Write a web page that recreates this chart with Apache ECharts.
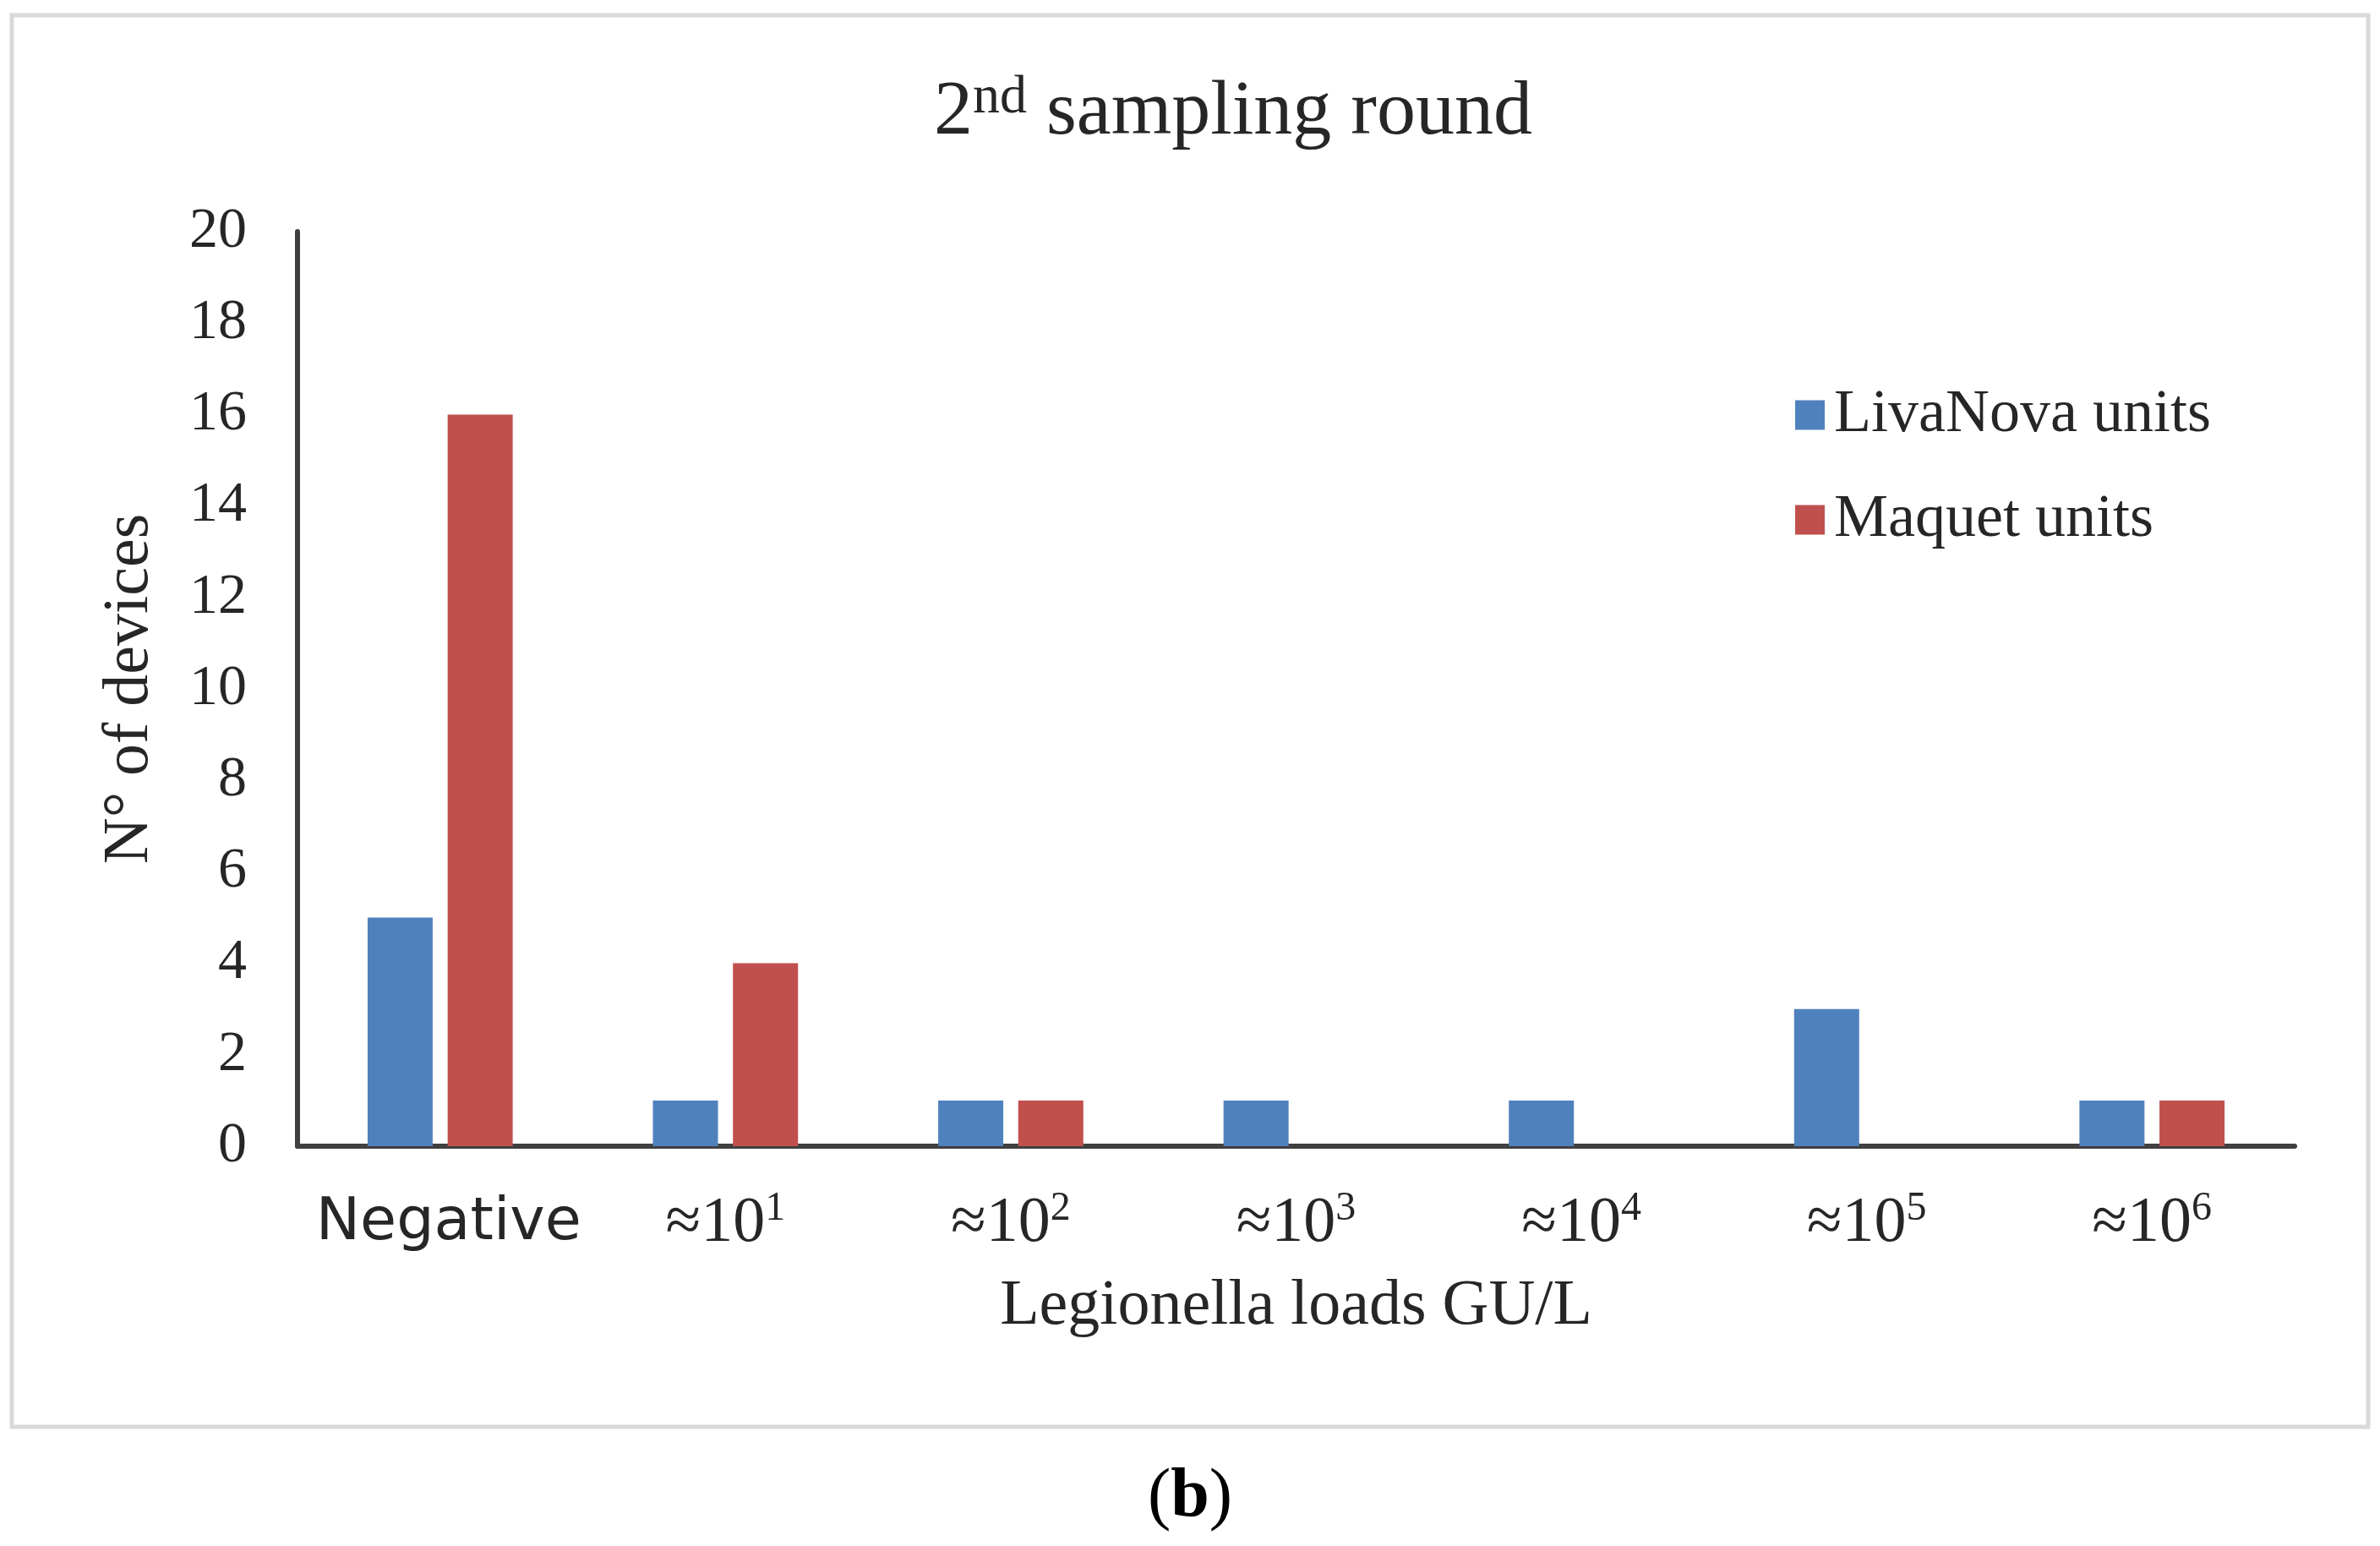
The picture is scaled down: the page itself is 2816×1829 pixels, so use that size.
<!DOCTYPE html>
<html>
<head>
<meta charset="utf-8">
<script src="https://cdn.jsdelivr.net/npm/echarts@6/dist/echarts.min.js"></script>
<style>
html,body{margin:0;padding:0;background:#fff;}
#chart{width:2816px;height:1829px;}
</style>
</head>
<body>
<div id="chart"></div>
<script>
const categories = ['Negative', '≈10¹', '≈10²', '≈10³', '≈10⁴', '≈10⁵', '≈10⁶'];
const seriesNames = ['LivaNova units', 'Maquet units'];
const livaNova = [5, 1, 1, 1, 1, 3, 1];
const maquet = [16, 4, 1, 0, 0, 0, 1];
const yTicks = [0, 2, 4, 6, 8, 10, 12, 14, 16, 18, 20];
const titleText = '2nd sampling round';
const xName = 'Legionella loads GU/L';
const yName = 'N° of devices';
const caption = '(b)';

const supMap = {'¹':'1','²':'2','³':'3','⁴':'4','⁵':'5','⁶':'6'};
const serif = '"Liberation Serif", "Times New Roman", serif';
const sans = '"DejaVu Sans", sans-serif';
const textColor = '#262626';

const chart = echarts.init(document.getElementById('chart'));
chart.setOption({
  backgroundColor: '#ffffff',
  animation: false,
  grid: { left: 352, right: 101, top: 274, bottom: 473, containLabel: false },
  legend: {
    orient: 'vertical',
    left: 2124,
    top: 455,
    padding: 0,
    icon: 'rect',
    itemWidth: 35,
    itemHeight: 35,
    itemGap: 52,
    data: seriesNames,
    textStyle: { fontFamily: serif, fontSize: 72, lineHeight: 72, color: textColor, padding: [0, 0, 0, 6] }
  },
  xAxis: {
    type: 'category',
    data: categories,
    name: xName,
    nameLocation: 'middle',
    nameGap: 152,
    nameTextStyle: { fontFamily: serif, fontSize: 76, color: textColor },
    axisLine: { show: true, lineStyle: { color: '#404040', width: 6 } },
    axisTick: { show: false },
    splitLine: { show: false },
    axisLabel: {
      margin: 50,
      interval: 0,
      formatter: function (v) {
        const m = v.match(/^≈10(.)$/);
        if (m) return '{m|≈10}{s|' + supMap[m[1]] + '}';
        return '{n|' + v + '}';
      },
      rich: {
        n: { fontFamily: sans, fontSize: 70, lineHeight: 84, color: textColor, padding: [0, 0, 0, 20] },
        m: { fontFamily: serif, fontSize: 76, lineHeight: 84, color: textColor },
        s: { fontFamily: serif, fontSize: 48, lineHeight: 48, verticalAlign: 'top', color: textColor }
      }
    }
  },
  yAxis: {
    type: 'value',
    min: 0,
    max: 20,
    interval: 2,
    name: yName,
    nameLocation: 'middle',
    nameGap: 160,
    nameRotate: 90,
    nameTextStyle: { fontFamily: serif, fontSize: 76, color: textColor },
    axisLine: { show: true, lineStyle: { color: '#404040', width: 6 } },
    axisTick: { show: false },
    splitLine: { show: false },
    axisLabel: {
      margin: 60,
      fontFamily: serif,
      fontSize: 68,
      color: textColor,
      formatter: function (v) { return yTicks.indexOf(v) >= 0 ? String(v) : ''; }
    }
  },
  series: [
    { name: seriesNames[0], type: 'bar', data: livaNova, barWidth: 77, barGap: '23%', itemStyle: { color: '#4F81BD' } },
    { name: seriesNames[1], type: 'bar', data: maquet, barWidth: 77, barGap: '23%', itemStyle: { color: '#C0504D' } }
  ],
  graphic: [
    {
      type: 'rect',
      silent: true,
      shape: { x: 14, y: 18, width: 2788, height: 1670 },
      style: { fill: 'none', stroke: '#d9d9d9', lineWidth: 5 }
    },
    {
      type: 'text',
      silent: true,
      style: {
        x: 1459, y: 84,
        align: 'center', verticalAlign: 'top',
        text: '{a|2}{s|nd}{a| sampling round}',
        rich: {
          a: { fontFamily: serif, fontSize: 92, lineHeight: 100, fill: textColor },
          s: { fontFamily: serif, fontSize: 64, lineHeight: 64, verticalAlign: 'top', fill: textColor }
        }
      }
    },
    {
      type: 'text',
      silent: true,
      style: {
        x: 1408, y: 1772,
        align: 'center', verticalAlign: 'middle',
        text: '{p|(}{b|b}{p|)}',
        rich: {
          p: { fontFamily: serif, fontSize: 82, lineHeight: 96, fill: '#000' },
          b: { fontFamily: serif, fontSize: 82, lineHeight: 96, fontWeight: 'bold', fill: '#000' }
        }
      }
    }
  ]
});
</script>
</body>
</html>
